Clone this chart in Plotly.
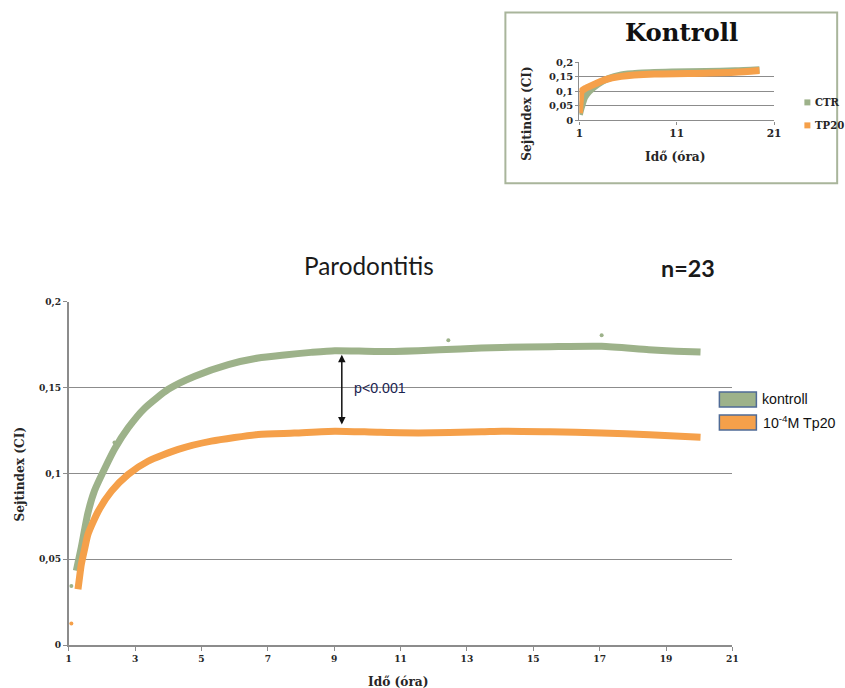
import plotly.graph_objects as go

W, H = 845, 688
# compensation for the capture's small scale/offset
SX, OX = 0.987, 2.6
SY, OY = 0.985, 4.5

def px(x):
    return min(((x - OX) / SX) / W, 0.999)

def py(y):
    return 1 - ((y - OY) / SY) / H

def fs(s):
    return s / 0.986

# ---------------- data: main chart (Parodontitis) ----------------
kontroll_x = [1.23, 1.38, 1.58, 1.78, 2.09, 2.39, 2.79, 3.29, 4.0, 4.8, 5.81,
              6.71, 7.5, 8.3, 9.02, 10.3, 11.54, 12.8, 14.05, 15.5, 17.06, 18.48, 19.3, 20.04]
kontroll_y = [0.0433, 0.057, 0.077, 0.090, 0.103, 0.1145, 0.1265, 0.138,
              0.149, 0.1566, 0.1634, 0.1672, 0.169, 0.1705, 0.1715, 0.171, 0.1715, 0.1725,
              0.1734, 0.1738, 0.174, 0.172, 0.1712, 0.1707]
kontroll_out_x = [1.08, 2.38, 12.44, 17.06]
kontroll_out_y = [0.0345, 0.118, 0.1775, 0.1805]

tp20_x = [1.28, 1.33, 1.38, 1.48, 1.58, 1.89, 2.29, 2.79, 3.39, 4.3, 5.3, 6.71, 7.8,
          9.02, 10.3, 11.54, 13.44, 14.05, 15.5, 17.06, 18.5, 20.04]
tp20_y = [0.0326, 0.040, 0.047, 0.056, 0.0645, 0.078, 0.0897, 0.0994, 0.1071, 0.114,
          0.1188, 0.1227, 0.1235, 0.1246, 0.124, 0.1236, 0.1242, 0.1246, 0.1242, 0.1236,
          0.1225, 0.1211]
tp20_out_x = [1.08]
tp20_out_y = [0.0126]

main_yticks = [0, 0.05, 0.1, 0.15, 0.2]
main_yticktext = ["0", "0,05", "0,1", "0,15", "0,2"]
main_xticks = [1, 3, 5, 7, 9, 11, 13, 15, 17, 19, 21]

arrow_x = 9.23
arrow_y_top = 0.170
arrow_y_bottom = 0.1285

# ---------------- data: inset (Kontroll) ----------------
ctr_x = [1.0, 1.2, 1.55, 2.0, 2.9, 4.0, 5.3, 7.0, 10.5, 14.0, 17.0, 19.5]
ctr_y = [0.02, 0.045, 0.08, 0.100, 0.125, 0.145, 0.157, 0.163, 0.167, 0.169, 0.171, 0.175]
tp20k_x = [1.0, 1.1, 1.2, 1.6, 2.23, 3.6, 5.3, 8.7, 13.8, 17.0, 19.5]
tp20k_y = [0.025, 0.07, 0.100, 0.110, 0.120, 0.140, 0.152, 0.160, 0.163, 0.166, 0.172]
inset_yticks = [0, 0.05, 0.1, 0.15, 0.2]
inset_yticktext = ["0", "0,05", "0,1", "0,15", "0,2"]
inset_xticks = [1, 11, 21]

GREEN = "#9DB28A"
ORANGE = "#F5A04A"
GRID = "#8C8C8C"
SERIF = "DejaVu Serif"
TXT = "#262626"

fig = go.Figure()

# main traces
fig.add_trace(go.Scatter(x=kontroll_x, y=kontroll_y, mode="lines", line=dict(color=GREEN, width=7, shape="spline", smoothing=0.6),
                         name="kontroll", showlegend=False, xaxis="x", yaxis="y"))
fig.add_trace(go.Scatter(x=kontroll_out_x, y=kontroll_out_y, mode="markers", marker=dict(color=GREEN, size=4),
                         showlegend=False, xaxis="x", yaxis="y"))
fig.add_trace(go.Scatter(x=tp20_x, y=tp20_y, mode="lines", line=dict(color=ORANGE, width=7, shape="spline", smoothing=0.6),
                         name="10⁻⁴M Tp20", showlegend=False, xaxis="x", yaxis="y"))
fig.add_trace(go.Scatter(x=tp20_out_x, y=tp20_out_y, mode="markers", marker=dict(color=ORANGE, size=4),
                         showlegend=False, xaxis="x", yaxis="y"))

# inset traces
fig.add_trace(go.Scatter(x=ctr_x, y=ctr_y, mode="lines", line=dict(color=GREEN, width=7, shape="spline", smoothing=0.6),
                         name="CTR", showlegend=False, xaxis="x2", yaxis="y2"))
fig.add_trace(go.Scatter(x=tp20k_x, y=tp20k_y, mode="lines", line=dict(color=ORANGE, width=7, shape="spline", smoothing=0.6),
                         name="TP20", showlegend=False, xaxis="x2", yaxis="y2"))

main_xdom = [px(67.3), px(731)]
main_ydom = [py(644.3), py(300.5)]
ins_xdom = [px(578), px(772.7)]
ins_ydom = [py(119), py(61)]

tickfont_main = dict(family=SERIF, size=fs(9), color=TXT, weight="bold")
tickfont_ins = dict(family=SERIF, size=fs(9.8), color=TXT, weight="bold")

fig.update_layout(
    width=W, height=H,
    margin=dict(l=0, r=0, t=0, b=0),
    paper_bgcolor="white", plot_bgcolor="white",
    showlegend=False,
    xaxis=dict(domain=main_xdom, range=[1, 21], tickvals=main_xticks, showgrid=False, zeroline=False,
               showline=True, linecolor=GRID, linewidth=1.5, ticks="outside", ticklen=4, tickcolor=GRID,
               tickfont=tickfont_main, anchor="y", fixedrange=True),
    yaxis=dict(domain=main_ydom, range=[0, 0.2], tickvals=main_yticks, ticktext=main_yticktext,
               showgrid=True, gridcolor=GRID, gridwidth=1.3, zeroline=False,
               showline=True, linecolor=GRID, linewidth=1.5, ticks="outside", ticklen=4, tickcolor=GRID,
               tickfont=tickfont_main, anchor="x", fixedrange=True),
    xaxis2=dict(domain=ins_xdom, range=[1, 21], tickvals=inset_xticks, showgrid=False, zeroline=False,
                showline=True, linecolor=GRID, linewidth=1.3, ticks="outside", ticklen=3, tickcolor=GRID,
                tickfont=dict(family=SERIF, size=fs(10.5), color=TXT, weight="bold"), anchor="y2", fixedrange=True),
    yaxis2=dict(domain=ins_ydom, range=[0, 0.2], tickvals=inset_yticks, ticktext=inset_yticktext,
                showgrid=True, gridcolor=GRID, gridwidth=1.2, zeroline=False,
                showline=True, linecolor=GRID, linewidth=1.3, ticks="outside", ticklen=3, tickcolor=GRID,
                tickfont=tickfont_ins, anchor="x2", fixedrange=True),
)

shapes = []
annotations = []

# inset frame
shapes.append(dict(type="rect", xref="paper", yref="paper", x0=px(504), x1=px(842), y0=py(182), y1=py(11),
                   line=dict(color="#A9B59B", width=2), fillcolor="rgba(0,0,0,0)", layer="below"))

# main legend boxes
shapes.append(dict(type="rect", xref="paper", yref="paper", x0=px(718), x1=px(755), y0=py(406), y1=py(391),
                   line=dict(color="#4F6B96", width=1.5), fillcolor=GREEN))
shapes.append(dict(type="rect", xref="paper", yref="paper", x0=px(718), x1=px(755), y0=py(429), y1=py(414),
                   line=dict(color="#4F6B96", width=1.5), fillcolor=ORANGE))

# inset legend markers
shapes.append(dict(type="rect", xref="paper", yref="paper", x0=px(803), x1=px(809), y0=py(104), y1=py(98),
                   line=dict(width=0), fillcolor=GREEN))
shapes.append(dict(type="rect", xref="paper", yref="paper", x0=px(803), x1=px(809), y0=py(127), y1=py(121),
                   line=dict(width=0), fillcolor=ORANGE))

fig.update_layout(shapes=shapes)

def ann(text, x, y, size, family, color=TXT, weight="normal", xanchor="center", yanchor="middle", angle=0):
    annotations.append(dict(text=text, x=px(x), y=py(y), xref="paper", yref="paper", showarrow=False,
                            xanchor=xanchor, yanchor=yanchor, textangle=angle,
                            font=dict(size=fs(size), family=family, color=color, weight=weight)))

ann("Parodontitis", 368, 264, 24, "Lato", color="#1a1a1a")
ann("n=23", 687, 267, 23, "Lato", color="#1a1a1a", weight="bold")
ann("Sejtindex (CI)", 19, 473, 12, SERIF, weight="bold", angle=-90)
ann("Idő (óra)", 397, 681, 12, SERIF, weight="bold")
ann("kontroll", 759, 398, 14, "Liberation Sans", color="#111111", xanchor="left")
ann("10<sup>-4</sup>M Tp20", 760, 421, 14, "Liberation Sans", color="#111111", xanchor="left")
ann("p<0.001", 351, 387, 14, "Liberation Sans", color="#1B2450", xanchor="left")

ann("Kontroll", 680, 31, 24, SERIF, color="#111111", weight="bold")
ann("Sejtindex (CI)", 526, 112, 12, SERIF, weight="bold", angle=-90)
ann("Idő (óra)", 674, 156, 12, SERIF, weight="bold")
ann("CTR", 812, 101, 10, SERIF, weight="bold", xanchor="left")
ann("TP20", 812, 124, 10, SERIF, weight="bold", xanchor="left")

# double-headed arrow
annotations.append(dict(x=arrow_x, y=arrow_y_bottom, ax=arrow_x, ay=arrow_y_top, xref="x", yref="y",
                        axref="x", ayref="y", showarrow=True, text="", arrowhead=2, arrowsize=1,
                        arrowwidth=1.5, arrowcolor="#111111", arrowside="end+start"))

fig.update_layout(annotations=annotations)

fig.write_html("out.html", config={"displayModeBar": False},
               post_script="document.body.style.margin='0';document.body.style.padding='0';document.body.style.overflow='hidden';")
